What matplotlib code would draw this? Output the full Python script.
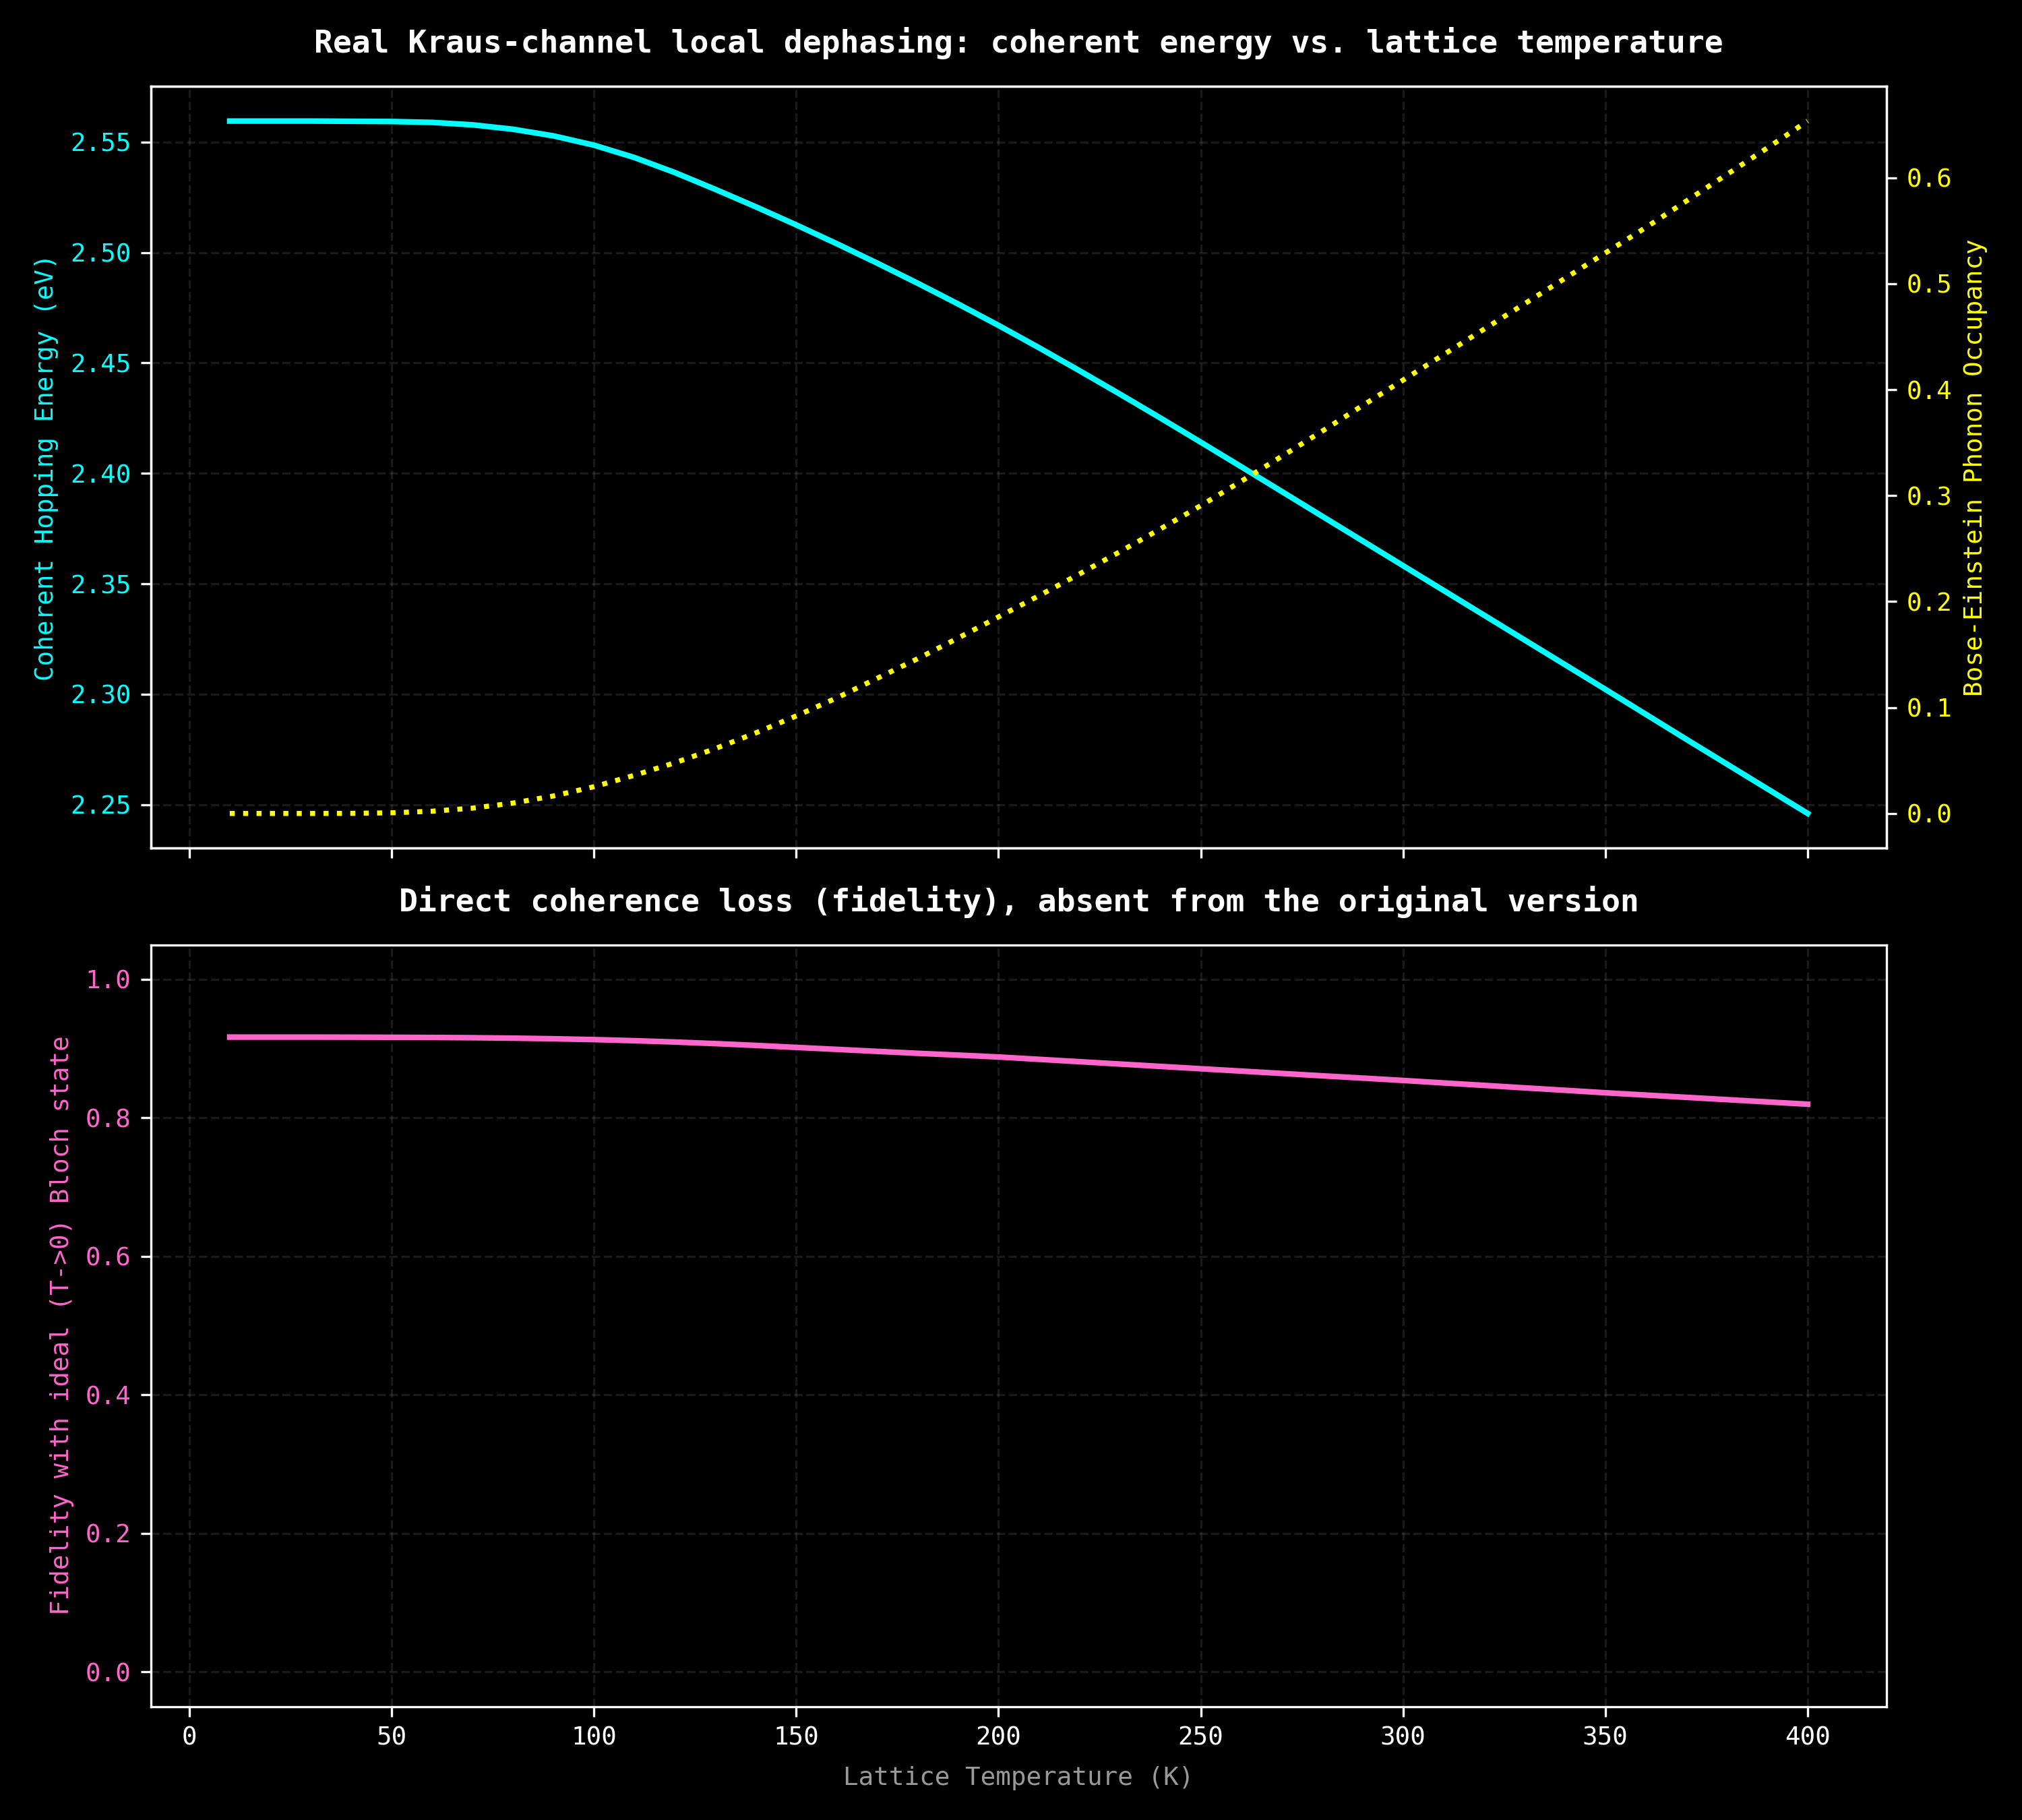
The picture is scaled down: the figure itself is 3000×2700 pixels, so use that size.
import numpy as np
import matplotlib
matplotlib.use("Agg")
import matplotlib.pyplot as plt

# values (every 10 K)
temperature = np.arange(10, 401, 10)

hopping_energy = [
    2.5595, 2.5595, 2.5595, 2.5594, 2.5593, 2.5589, 2.5578, 2.5558, 2.5528, 2.5486,
    2.5430, 2.5362, 2.5286, 2.5207, 2.5125, 2.5040, 2.4952, 2.4861, 2.4767, 2.4670,
    2.4569, 2.4465, 2.4359, 2.4251, 2.4141, 2.4030, 2.3918, 2.3806, 2.3694, 2.3582,
    2.3470, 2.3358, 2.3246, 2.3134, 2.3022, 2.2909, 2.2796, 2.2684, 2.2572, 2.2460,
]

occupancy = [
    0.0, 0.0, 0.0, 0.0001, 0.0006, 0.0021, 0.0050, 0.0098, 0.0165, 0.0252,
    0.0360, 0.0478, 0.0612, 0.0760, 0.0920, 0.1090, 0.1275, 0.1460, 0.1655, 0.1855,
    0.2055, 0.2260, 0.2470, 0.2685, 0.2905, 0.3135, 0.3370, 0.3608, 0.3850, 0.4090,
    0.4330, 0.4570, 0.4810, 0.5050, 0.5290, 0.5530, 0.5780, 0.6030, 0.6280, 0.6535,
]

fidelity = [
    0.9167, 0.9167, 0.9167, 0.9166, 0.9164, 0.9162, 0.9158, 0.9152, 0.9143, 0.9131,
    0.9115, 0.9096, 0.9073, 0.9047, 0.9018, 0.8990, 0.8961, 0.8933, 0.8907, 0.8880,
    0.8846, 0.8812, 0.8778, 0.8744, 0.8710, 0.8676, 0.8642, 0.8608, 0.8575, 0.8541,
    0.8505, 0.8470, 0.8434, 0.8399, 0.8363, 0.8330, 0.8297, 0.8264, 0.8231, 0.8198,
]

plt.style.use("dark_background")
plt.rcParams["font.family"] = ["DejaVu Sans Mono"]

CYAN = "#00ffff"
YELLOW = "#ffff00"
PINK = "#ff66cc"
GRID = dict(color="gray", linestyle="--", linewidth=0.8, alpha=0.2)

fig, (ax1, ax3) = plt.subplots(2, 1, figsize=(10, 9), dpi=300, sharex=True)
fig.subplots_adjust(left=0.0746, right=0.933, top=0.9525, bottom=0.0624, hspace=0.127)

# top panel: hopping energy + occupancy on twin axis
ax1.plot(temperature, hopping_energy, color=CYAN, lw=2)
ax1.set_ylabel("Coherent Hopping Energy (eV)", color=CYAN, fontsize=9)
ax1.tick_params(axis="y", labelcolor=CYAN, labelsize=9)
ax1.tick_params(axis="x", labelsize=9)
ax1.grid(True, **GRID)
ax1.set_title("Real Kraus-channel local dephasing: coherent energy vs. lattice temperature",
              fontsize=11.15, fontweight="bold", pad=12)

ax2 = ax1.twinx()
ax2.plot(temperature, occupancy, color=YELLOW, lw=1.8, linestyle=":")
ax2.set_ylabel("Bose-Einstein Phonon Occupancy", color=YELLOW, fontsize=9)
ax2.tick_params(axis="y", labelcolor=YELLOW, labelsize=9)

# bottom panel: fidelity
ax3.plot(temperature, fidelity, color=PINK, lw=2)
ax3.set_ylim(-0.05, 1.05)
ax3.set_ylabel("Fidelity with ideal (T->0) Bloch state", color=PINK, fontsize=9)
ax3.set_xlabel("Lattice Temperature (K)", color="#999999", fontsize=9, labelpad=5.5)
ax3.tick_params(axis="y", labelcolor=PINK, labelsize=9)
ax3.tick_params(axis="x", labelsize=9)
ax3.grid(True, **GRID)
ax3.set_title("Direct coherence loss (fidelity), absent from the original version",
              fontsize=11.15, fontweight="bold", pad=12)

fig.savefig("out.png", dpi=300)
